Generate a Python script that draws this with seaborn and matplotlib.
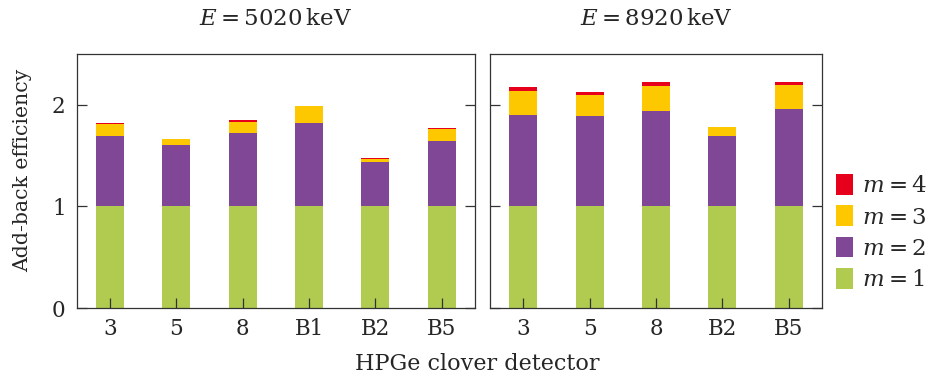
import matplotlib
matplotlib.use("Agg")
import matplotlib.pyplot as plt
from matplotlib.patches import Patch
import pandas as pd
import seaborn as sns

# Add-back efficiency per detector, split by fold multiplicity m
detectors_5020 = ["3", "5", "8", "B1", "B2", "B5"]
m1_5020 = [1.0, 1.0, 1.0, 1.0, 1.0, 1.0]
m2_5020 = [0.69, 0.60, 0.72, 0.82, 0.44, 0.645]
m3_5020 = [0.125, 0.06, 0.115, 0.165, 0.03, 0.12]
m4_5020 = [0.01, 0.007, 0.02, 0.006, 0.004, 0.007]

detectors_8920 = ["3", "5", "8", "B2", "B5"]
m1_8920 = [1.0, 1.0, 1.0, 1.0, 1.0]
m2_8920 = [0.90, 0.89, 0.94, 0.69, 0.96]
m3_8920 = [0.24, 0.205, 0.25, 0.09, 0.235]
m4_8920 = [0.035, 0.027, 0.03, 0.0, 0.025]

titles = [r"$E = 5020\,\mathrm{keV}$", r"$E = 8920\,\mathrm{keV}$"]
legend_labels = [r"$m = 4$", r"$m = 3$", r"$m = 2$", r"$m = 1$"]
colors = {"m1": "#b0cb50", "m2": "#7f4796", "m3": "#fec800", "m4": "#e6001c"}

sns.set_style("ticks")
plt.rcParams["font.family"] = ["DejaVu Serif"]
plt.rcParams["mathtext.fontset"] = "dejavuserif"


def make_frame(dets, m1, m2, m3, m4):
    df = pd.DataFrame({"detector": dets, "m1": m1, "m2": m2, "m3": m3, "m4": m4})
    df["c1"] = df["m1"]
    df["c2"] = df["c1"] + df["m2"]
    df["c3"] = df["c2"] + df["m3"]
    df["c4"] = df["c3"] + df["m4"]
    return df


frames = [
    make_frame(detectors_5020, m1_5020, m2_5020, m3_5020, m4_5020),
    make_frame(detectors_8920, m1_8920, m2_8920, m3_8920, m4_8920),
]
orders = [detectors_5020, detectors_8920]

fig = plt.figure(figsize=(9.29, 3.79), dpi=100)
ax_l = fig.add_axes([0.0826, 0.1873, 0.4287, 0.6702])
ax_r = fig.add_axes([0.5274, 0.1873, 0.3574, 0.6702])

for ax, df, order, title in zip([ax_l, ax_r], frames, orders, titles):
    # cumulative heights, tallest first so each layer shows its own slice
    for col, key in [("c4", "m4"), ("c3", "m3"), ("c2", "m2"), ("c1", "m1")]:
        sns.barplot(data=df, x="detector", y=col, order=order, color=colors[key],
                    saturation=1, width=0.42, errorbar=None, linewidth=0, ax=ax)
    ax.set_ylim(0, 2.5)
    ax.set_xlim(-0.5, len(order) - 0.5)
    ax.set_yticks([0, 1, 2])
    ax.set_xlabel("")
    ax.set_ylabel("")
    ax.set_axisbelow(False)
    ax.tick_params(axis="both", direction="in", length=7.5, width=0.9,
                   color="#333333", labelsize=15.5, top=False, right=True)
    ax.tick_params(axis="x", pad=7)
    ax.tick_params(axis="y", pad=8)
    for sp in ax.spines.values():
        sp.set_visible(True)
        sp.set_linewidth(0.9)
        sp.set_color("#333333")
    ax.set_title(title, fontsize=16.5, pad=21)

ax_r.tick_params(axis="y", labelleft=False)

fig.text(0.024, 0.55, "Add-back efficiency", rotation=90, ha="center",
         va="center", fontsize=14.7)
fig.text(0.514, 0.04, "HPGe clover detector", ha="center", va="center",
         fontsize=16)

handles = [Patch(facecolor=colors[k], edgecolor="none") for k in ["m4", "m3", "m2", "m1"]]
fig.legend(handles, legend_labels, loc="center left", bbox_to_anchor=(0.9, 0.386),
           frameon=False, fontsize=16.5, handlelength=0.75, handleheight=1.0,
           handletextpad=0.4, labelspacing=0.36, borderpad=0, borderaxespad=0)

fig.savefig("out.png", dpi=100)
